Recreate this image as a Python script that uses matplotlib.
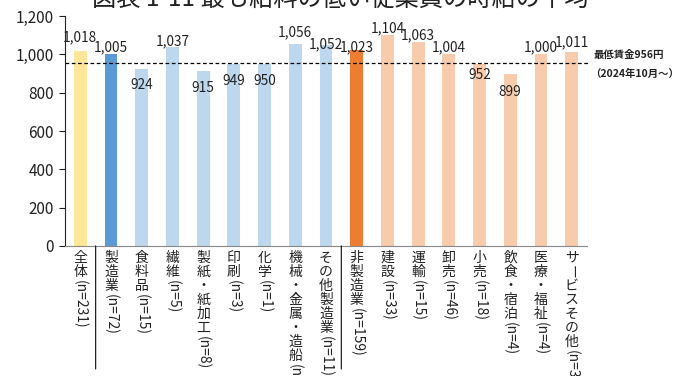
import numpy as np
import matplotlib
matplotlib.use("Agg")
import matplotlib.pyplot as plt

plt.rcParams['font.family'] = ['Noto Sans CJK JP', 'DejaVu Sans']

# 業種別の時給平均（円）
categories = ["全体", "製造業", "食料品", "繊維", "製紙・紙加工", "印刷", "化学",
              "機械・金属・造船", "その他製造業", "非製造業", "建設", "運輸", "卸売",
              "小売", "飲食・宿泊", "医療・福祉", "サービスその他"]
counts = ["n=231", "n=72", "n=15", "n=5", "n=8", "n=3", "n=1", "n=29", "n=11",
          "n=159", "n=33", "n=15", "n=46", "n=18", "n=4", "n=4", "n=39"]
wages = [1018, 1005, 924, 1037, 915, 949, 950, 1056, 1052,
         1023, 1104, 1063, 1004, 952, 899, 1000, 1011]
min_wage = 956

colors = (["#FFE699", "#5B9BD5"] + ["#BDD7EE"] * 7 +
          ["#ED7D31"] + ["#F8CBAD"] * 7)

# 値ラベルの棒上端からのずれ（px、負は棒の内側）
label_shift = [14, 6, -16, 6, -17, -17, -17, 11, 0,
               3, 6, 7, 6, -11, -18, 7, 10]

fig = plt.figure(figsize=(6.98, 3.76), dpi=100)
ax = fig.add_axes([0.093, 0.346, 0.748, 0.611])

x = np.arange(len(categories))
ax.bar(x, wages, width=0.42, color=colors, zorder=2)
ax.set_xlim(-0.5, len(categories) - 0.5)
ax.set_ylim(0, 1200)
ax.set_yticks(np.arange(0, 1201, 200))
ax.yaxis.set_major_formatter(matplotlib.ticker.FuncFormatter(lambda v, p: f"{int(v):,}"))
ax.tick_params(axis='y', labelsize=11, length=4, colors="#222222", pad=4)
ax.set_xticks([])
for side in ("top", "right"):
    ax.spines[side].set_visible(False)
ax.spines["left"].set_color("#222222")
ax.spines["bottom"].set_color("#888888")

# 最低賃金ライン
ax.axhline(min_wage, color="black", ls=(0, (3, 2)), lw=0.9, zorder=3, xmax=1.005, clip_on=False)
ax.annotate("最低賃金956円", xy=(1.0, min_wage), xycoords=("axes fraction", "data"),
            xytext=(5, 6), textcoords="offset points", fontsize=7.5,
            fontweight="bold", va="center", ha="left", color="#222222")
ax.annotate("（2024年10月～）", xy=(1.0, min_wage), xycoords=("axes fraction", "data"),
            xytext=(2, -8), textcoords="offset points", fontsize=7.5,
            fontweight="bold", va="center", ha="left", color="#222222")

# 値ラベル
for xi, v, d in zip(x, wages, label_shift):
    ax.annotate(f"{v:,}", xy=(xi, v), xytext=(0, d * 0.72), textcoords="offset points",
                ha="center", va="center", fontsize=9.8, color="#222222", zorder=4)

# 縦書きの項目ラベル
step = 10.1
for xi, name, n in zip(x, categories, counts):
    y = -8.6
    for ch in name:
        rot = 270 if ch == "ー" else 0
        ax.annotate(ch, xy=(xi, 0), xycoords=("data", "axes fraction"),
                    xytext=(0, y), textcoords="offset points", ha="center",
                    va="center", fontsize=10, rotation=rot, color="#222222",
                    annotation_clip=False)
        y -= step
    ax.annotate(f"({n})", xy=(xi, 0), xycoords=("data", "axes fraction"),
                xytext=(0, y + step / 2 - 1), textcoords="offset points",
                ha="center", va="top", fontsize=10, rotation=270,
                color="#222222", annotation_clip=False)

# 全体／製造業／非製造業の区切り線
for xs in (0.5, 8.5):
    ax.annotate("", xy=(xs, 0), xycoords=("data", "axes fraction"),
                xytext=(xs, -123 * 0.72), textcoords=("data", "offset points"),
                arrowprops=dict(arrowstyle="-", color="#222222", lw=0.9,
                                shrinkA=0, shrinkB=0),
                annotation_clip=False)

fig.text(0.487, 1.004, "図表 1-11 最も給料の低い従業員の時給の平均", ha="center",
         va="center", fontsize=17.5, color="#222222")

fig.savefig("out.png", dpi=100)
